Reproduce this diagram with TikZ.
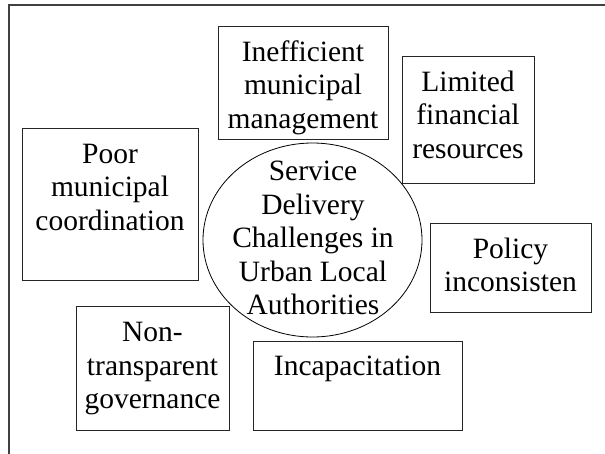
\documentclass[tikz,border=0pt]{standalone}
\usepackage{fontspec}
\setmainfont{Liberation Serif}[Ligatures=NoCommon]
\usetikzlibrary{shapes.geometric}
\begin{document}
\begin{tikzpicture}[x=1pt,y=-1pt,
  frameline/.style={draw=black!75,line width=1.1pt},
  factorbox/.style={draw=black!85,line width=0.9pt,fill=white,rectangle,inner sep=0pt},
  hub/.style={draw=black,line width=0.8pt,ellipse,inner sep=0pt},
  label/.style={anchor=base,align=center,inner sep=0pt,
    font=\fontsize{29.5pt}{33.5pt}\selectfont}]
  \useasboundingbox (0,0) rectangle (605,453);

  % open page frame: top and left edges only
  \coordinate (ftr) at (606,5);
  \coordinate (ftl) at (9,5);
  \coordinate (fbl) at (9,454);
  \draw[frameline] (ftr) -- (ftl) -- (fbl);

  % factor boxes
  \node[factorbox,minimum width=170pt,minimum height=113pt] (ineff)  at (303,82.5)   {};
  \node[factorbox,minimum width=132pt,minimum height=127pt] (limit)  at (468,119.5)  {};
  \node[factorbox,minimum width=176pt,minimum height=152pt] (poor)   at (110,204)    {};
  \node[factorbox,minimum width=161pt,minimum height=89pt]  (policy) at (510.5,267.5){};
  \node[factorbox,minimum width=153pt,minimum height=124pt] (nontr)  at (152.5,368)  {};
  \node[factorbox,minimum width=209pt,minimum height=89pt]  (incap)  at (357.5,385.5){};

  % central theme
  \node[hub,minimum width=219pt,minimum height=194pt] (core) at (312.5,240) {};

  % texts; each is placed by the baseline of its last line
  \node[label] (tineff)  at (303,128)    {Inefficient\\municipal\\management};
  \node[label] (tlimit)  at (468,158)    {Limited\\financial\\resources};
  \node[label] (tpoor)   at (110,230)    {Poor\\municipal\\coordination};
  \node[label] (tpolicy) at (510.5,291.5){Policy\\inconsisten};
  \node[label] (tnontr)  at (152.5,408.5){Non-\\transparent\\governance};
  \node[label] (tincap)  at (357.5,375)  {Incapacitation};
  \node[label] (tcore)   at (313,314.5)  {Service\\Delivery\\Challenges in\\Urban Local\\Authorities};
\end{tikzpicture}
\end{document}
